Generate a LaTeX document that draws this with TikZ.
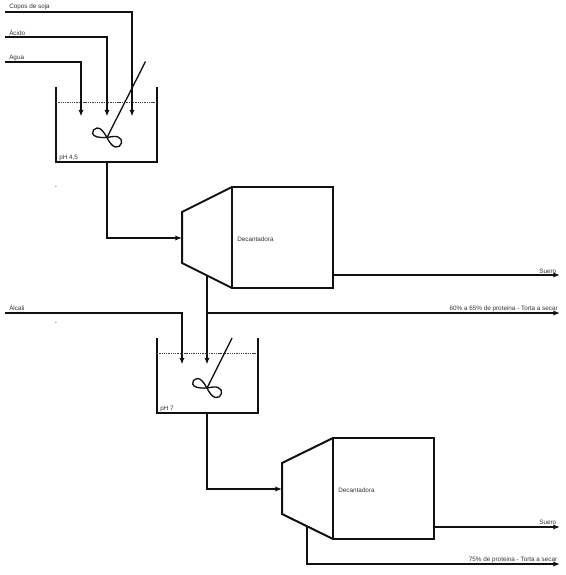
\documentclass[tikz,border=0pt]{standalone}
\usepackage{fontspec}
\setmainfont{Liberation Sans}
\usepackage{xcolor}
\usetikzlibrary{arrows.meta,positioning}
\definecolor{PlantInk}{HTML}{111111}
\definecolor{PlantText}{HTML}{333333}

\begin{document}
\begin{tikzpicture}[
  x=0.75pt, y=-0.75pt,
  wall/.style={draw=PlantInk, line width=1.5pt, line join=miter},
  flowline/.style={draw=PlantInk, line width=1.5pt},
  flowarrow/.style={flowline, -{Latex[length=5pt,width=4pt]}},
  thinline/.style={draw=PlantInk, line width=1pt},
  levelline/.style={draw=PlantInk!80, line width=0.7pt, dash pattern=on 1pt off 0.7pt},
  tag/.style={font=\fontsize{4.75pt}{5.5pt}\selectfont, text=PlantText, inner sep=0pt},
  decbox/.style={wall, minimum width=75.75pt, minimum height=75.75pt, inner sep=0pt, outer sep=0pt},
  pics/paddle/.style={code={
    \draw[thinline] (0,0) .. controls (-3,-5) and (-6,-10) .. (-10,-9.5)
      .. controls (-13,-9) and (-15,-6.5) .. (-14.3,-4)
      .. controls (-13.5,-1) and (-9,0.5) .. (0,0)
      .. controls (5,-1) and (9,-1.5) .. (11,-0.5)
      .. controls (14,0.5) and (15,3) .. (14.5,5.5)
      .. controls (14,8.5) and (11,10) .. (8.5,9.5)
      .. controls (5,9) and (2,4) .. (0,0);
  }}
]
\useasboundingbox (0,0) rectangle (566,575);

% first tank
\coordinate (tankA) at (56,86.5);
\coordinate (tankAr) at (157,86.5);
\coordinate (tankAb) at (107,162);
\draw[wall] (tankA) |- (tankAb) -| (tankAr);
\draw[levelline] (56,102) -- (157,102);
\coordinate (shaftA) at (145.5,61.5);
\coordinate (hubA) at (107,137.5);
\draw[thinline] (shaftA) -- (hubA);
\pic at (hubA) {paddle};
\node[tag, anchor=west] (phA) at (59,157.5) {pH 4,5};
\node[tag] (markA) at (56,188) {-};

% feeds
\coordinate (sojaIn) at (5,12);
\coordinate (acidoIn) at (5,37);
\coordinate (aguaIn) at (5,62);
\coordinate (sojaEnd) at (132,116.5);
\coordinate (acidoEnd) at (107,116.5);
\coordinate (aguaEnd) at (81,116.5);
\draw[flowarrow] (sojaIn) -| (sojaEnd);
\draw[flowarrow] (acidoIn) -| (acidoEnd);
\draw[flowarrow] (aguaIn) -| (aguaEnd);
\node[tag, anchor=west] (soja) at (9,7) {Copos de soja};
\node[tag, anchor=west] (acido) at (9,32.5) {Ácido};
\node[tag, anchor=west] (agua) at (9,58) {Agua};

% first decanter
\node[decbox] (decA) at (282.5,237.5) {};
\node[tag, anchor=west] (decAtag) at (237,239.5) {Decantadora};
\coordinate (coneAt) at (182,212);
\coordinate (coneAb) at (182,263);
\coordinate (coneAm) at (182,238);
\draw[wall] (decA.north west) -- (coneAt) -- (coneAb) -- (decA.south west);
\draw[flowarrow] (tankAb) |- (coneAm);

\coordinate (sueroAs) at (333,275);
\coordinate (sueroAe) at (560,275);
\draw[flowarrow] (sueroAs) -- (sueroAe);
\node[tag, anchor=east] (sueroA) at (556.5,271) {Suero};

\coordinate (tortaAs) at (207,276);
\coordinate (tortaAj) at (207,313);
\coordinate (tortaAe) at (560,313);
\coordinate (tortaAd) at (207,364.5);
\draw[flowarrow] (tortaAs) -- (tortaAd);
\draw[flowarrow] (tortaAj) -- (tortaAe);
\node[tag, anchor=east] (tortaA) at (558,308.5) {60\% a 65\% de proteina - Torta a secar};

\coordinate (alcaliIn) at (5,313);
\coordinate (alcaliEnd) at (182,364.5);
\draw[flowarrow] (alcaliIn) -| (alcaliEnd);
\node[tag, anchor=west] (alcali) at (9,308) {Álcali};
\node[tag] (markB) at (56,324) {-};

% second tank
\coordinate (tankB) at (157,338);
\coordinate (tankBr) at (258,338);
\coordinate (tankBb) at (207,413);
\draw[wall] (tankB) |- (tankBb) -| (tankBr);
\draw[levelline] (157,353) -- (258,353);
\coordinate (shaftB) at (232,338);
\coordinate (hubB) at (207,388);
\draw[thinline] (shaftB) -- (hubB);
\pic at (hubB) {paddle};
\node[tag, anchor=west] (phB) at (160,409) {pH 7};

% second decanter
\node[decbox] (decB) at (383.5,488.5) {};
\node[tag, anchor=west] (decBtag) at (338,490.5) {Decantadora};
\coordinate (coneBt) at (282,463);
\coordinate (coneBb) at (282,514);
\coordinate (coneBm) at (282,489);
\draw[wall] (decB.north west) -- (coneBt) -- (coneBb) -- (decB.south west);
\draw[flowarrow] (tankBb) |- (coneBm);

\coordinate (sueroBs) at (434,527);
\coordinate (sueroBe) at (560,527);
\draw[flowarrow] (sueroBs) -- (sueroBe);
\node[tag, anchor=east] (sueroB) at (556.5,522.5) {Suero};

\coordinate (tortaBs) at (307,527);
\coordinate (tortaBe) at (560,564);
\draw[flowarrow] (tortaBs) |- (tortaBe);
\node[tag, anchor=east] (tortaB) at (557.5,559.5) {75\% de proteina - Torta a secar};
\end{tikzpicture}
\end{document}
